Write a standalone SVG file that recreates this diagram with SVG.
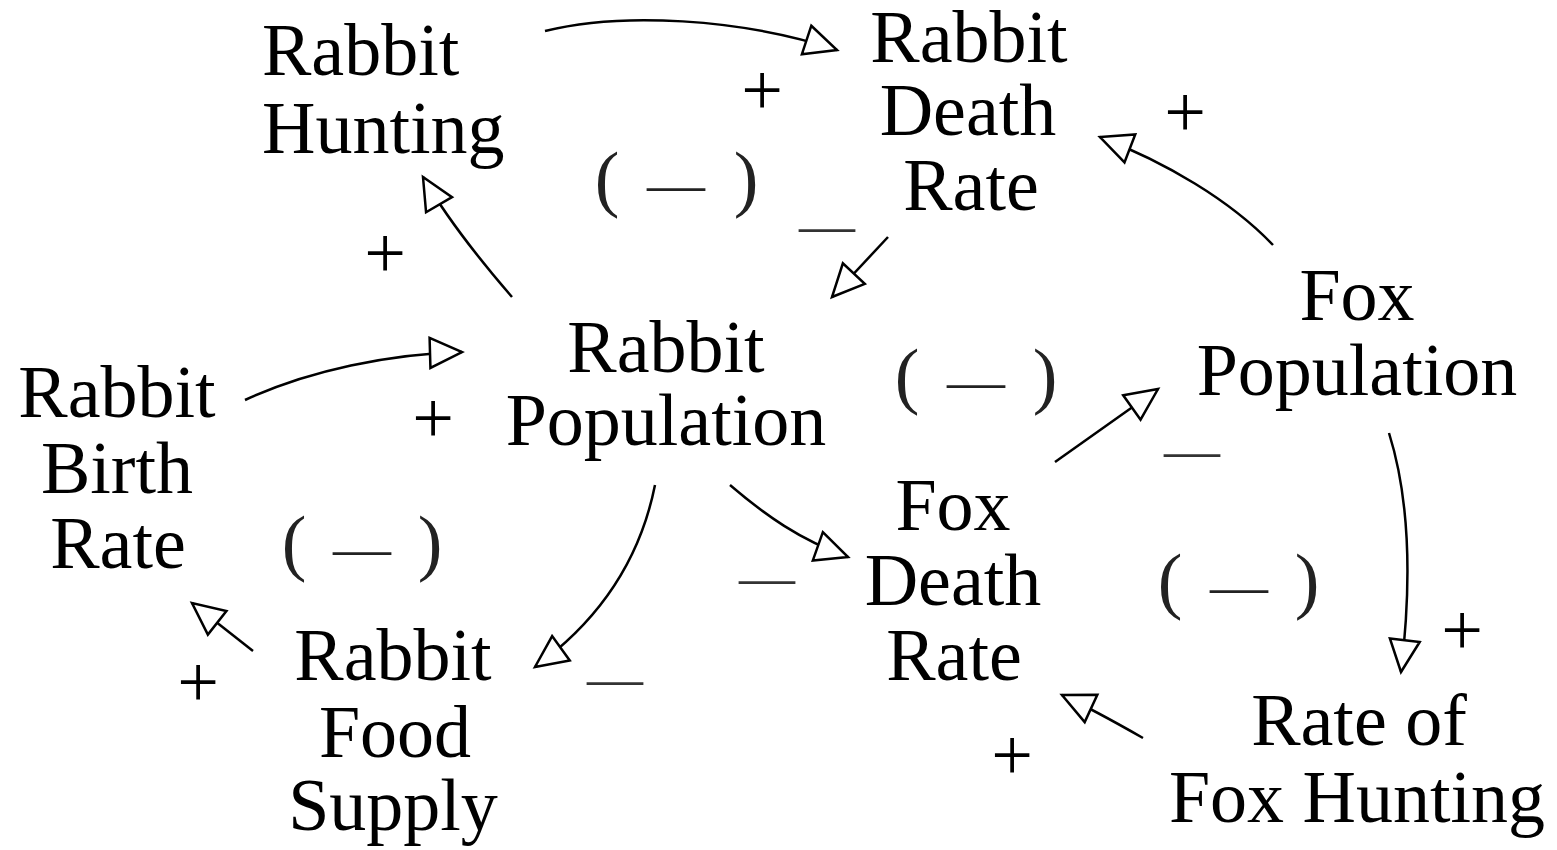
<svg xmlns="http://www.w3.org/2000/svg" width="1557" height="850" viewBox="0 0 1557 850">
<style>
text{font-family:"Liberation Serif","Times New Roman",serif;font-size:74px;fill:#000}
.c{text-anchor:middle}
.dash{font-size:56px;fill:#333;text-anchor:middle}
.loop{text-anchor:middle;fill:#222}
.ld{font-size:58px}
.edge{fill:none;stroke:#000;stroke-width:2.5}
</style>
<defs>
<marker id="tri" markerUnits="userSpaceOnUse" viewBox="-3 -18 38 36" refX="32" refY="0" markerWidth="38" markerHeight="36" orient="auto">
<path d="M0,-15 L32,0 L0,15 Z" fill="#fff" stroke="#000" stroke-width="2.5" stroke-linejoin="miter"/>
</marker>
</defs>
<rect width="1557" height="850" fill="#fff"/>
<g id="connectors">
<path class="edge" d="M545,31 C620,12 740,18 837,50" marker-end="url(#tri)"/>
<path class="edge" d="M1273,245 C1230,200 1165,162 1100,137" marker-end="url(#tri)"/>
<path class="edge" d="M888,237 L832,297" marker-end="url(#tri)"/>
<path class="edge" d="M512,297 C480,260 445,215 423,177" marker-end="url(#tri)"/>
<path class="edge" d="M245,400 C310,370 390,354 462,352" marker-end="url(#tri)"/>
<path class="edge" d="M655,485 C640,560 600,620 535,667" marker-end="url(#tri)"/>
<path class="edge" d="M730,485 C765,515 800,540 848,557" marker-end="url(#tri)"/>
<path class="edge" d="M1055,462 L1158,389" marker-end="url(#tri)"/>
<path class="edge" d="M1389,433 C1410,500 1412,580 1401,672" marker-end="url(#tri)"/>
<path class="edge" d="M1143,738 C1115,722 1090,708 1062,695" marker-end="url(#tri)"/>
<path class="edge" d="M253,651 L192,603" marker-end="url(#tri)"/>
</g>
<g id="rabbit-hunting"><text x="262" y="75">Rabbit</text><text x="262" y="153">Hunting</text></g>
<g id="rabbit-death-rate"><text class="c" x="969" y="62">Rabbit</text><text class="c" x="968" y="135">Death</text><text class="c" x="971" y="210">Rate</text></g>
<g id="fox-population"><text class="c" x="1357" y="320">Fox</text><text class="c" x="1357" y="395">Population</text></g>
<g id="rabbit-population"><text class="c" x="666" y="372">Rabbit</text><text class="c" x="666" y="445">Population</text></g>
<g id="rabbit-birth-rate"><text class="c" x="117" y="417">Rabbit</text><text class="c" x="117" y="493">Birth</text><text class="c" x="118" y="568">Rate</text></g>
<g id="rabbit-food-supply"><text class="c" x="393" y="680">Rabbit</text><text class="c" x="395" y="757">Food</text><text class="c" x="393" y="830">Supply</text></g>
<g id="fox-death-rate"><text class="c" x="953" y="530">Fox</text><text class="c" x="953" y="605">Death</text><text class="c" x="954" y="680">Rate</text></g>
<g id="rate-of-fox-hunting"><text class="c" x="1359" y="745">Rate of</text><text class="c" x="1357" y="822">Fox Hunting</text></g>
<g id="signs">
<text class="c" x="762" y="115">+</text>
<text class="c" x="1185" y="137">+</text>
<text class="c" x="385" y="278">+</text>
<text class="c" x="433" y="443">+</text>
<text class="c" x="198" y="707">+</text>
<text class="c" x="1462" y="655">+</text>
<text class="c" x="1012" y="780">+</text>
<text class="dash" x="827" y="244">—</text>
<text class="dash" x="1192" y="469">—</text>
<text class="dash" x="767" y="596">—</text>
<text class="dash" x="615" y="697">—</text>
</g>
<g id="loops">
<text class="loop" y="203"><tspan x="607">(</tspan><tspan class="ld" x="676">—</tspan><tspan x="746">)</tspan></text>
<text class="loop" y="400"><tspan x="907">(</tspan><tspan class="ld" x="976">—</tspan><tspan x="1045">)</tspan></text>
<text class="loop" y="567"><tspan x="294">(</tspan><tspan class="ld" x="362">—</tspan><tspan x="430">)</tspan></text>
<text class="loop" y="605"><tspan x="1170">(</tspan><tspan class="ld" x="1239">—</tspan><tspan x="1307">)</tspan></text>
</g>
</svg>
